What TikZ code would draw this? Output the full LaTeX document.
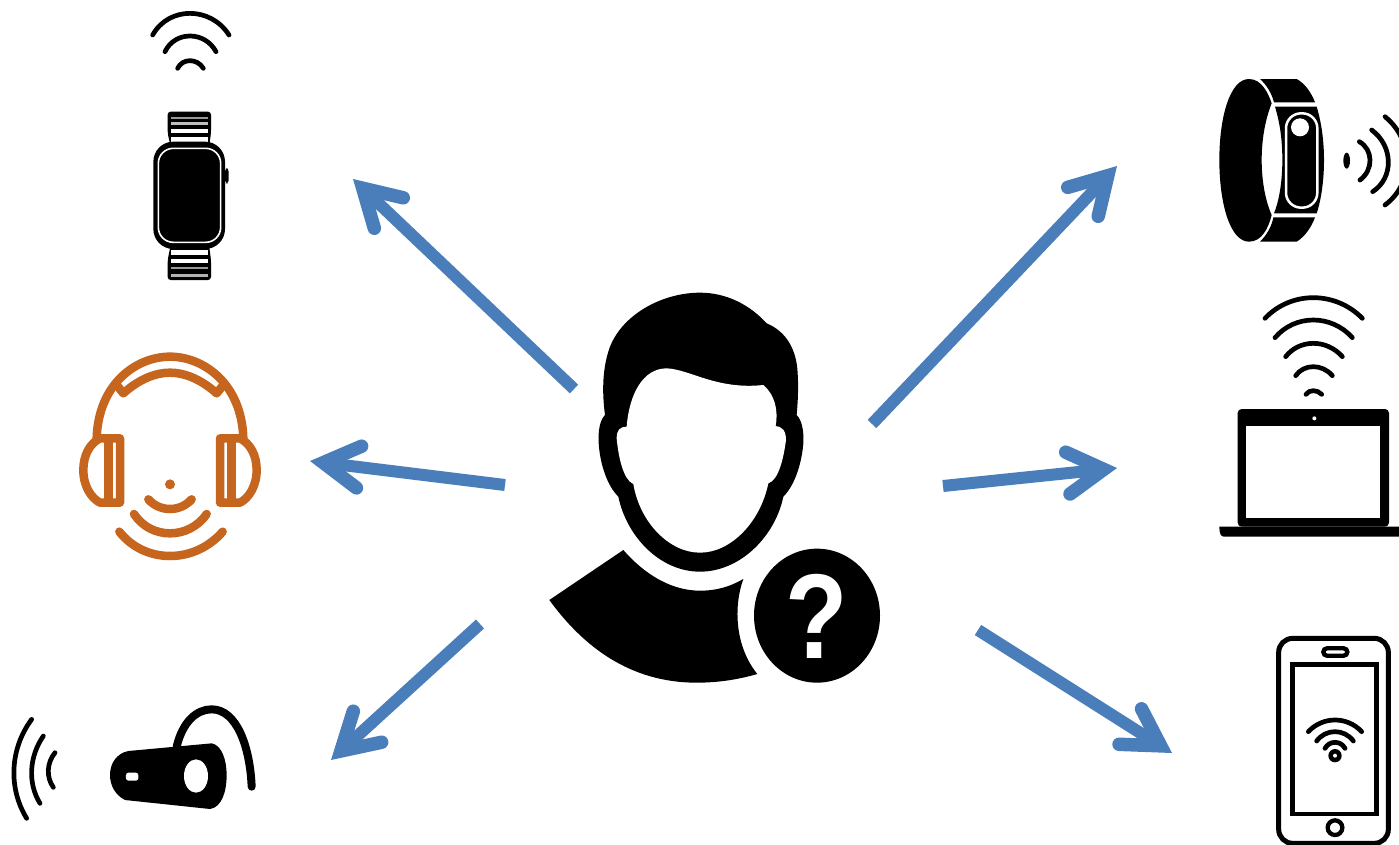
\documentclass[tikz,border=0pt]{standalone}
\usepackage{fontspec}
\setmainfont{Liberation Sans}
\usetikzlibrary{arrows.meta}
\definecolor{arrowblue}{HTML}{4A7EBB}
\definecolor{phoneorange}{HTML}{C5651E}
\tikzset{
  zoomed/.style 2 args={shift={(#1,#2)},x=.33333pt,y=-.33333pt},
  flow/.style={draw=arrowblue,line width=12pt,line cap=butt,line join=miter,
    -{Straight Barb[length=36pt,width=42pt,line width=13.5pt,line cap=round,line join=miter]}},
  ink/.style={fill=black,draw=none},
  hole/.style={fill=white,draw=none},
  radio/.style={draw=black,line width=4.7pt,line cap=round,fill=none}
}
% circular arc approximated from: end, apex, end
\newcommand{\wav}[7][]{%
  \pgfmathsetmacro\wava{veclen(#6-#2,#7-#3)/2}%
  \pgfmathsetmacro\wavmx{(#2+#6)/2}%
  \pgfmathsetmacro\wavmy{(#3+#7)/2}%
  \pgfmathsetmacro\wavh{veclen(#4-\wavmx,#5-\wavmy)}%
  \pgfmathsetmacro\wavt{\wavh/\wava}%
  \pgfmathsetmacro\wavL{2/3*(\wava+\wavh*\wavt)}%
  \pgfmathsetmacro\wavc{(1-\wavt*\wavt)/(1+\wavt*\wavt)}%
  \pgfmathsetmacro\wavs{2*\wavt/(1+\wavt*\wavt)}%
  \pgfmathsetmacro\wavux{(#6-#2)/(2*\wava)}%
  \pgfmathsetmacro\wavuy{(#7-#3)/(2*\wava)}%
  \pgfmathsetmacro\wavnx{(#4-\wavmx)/\wavh}%
  \pgfmathsetmacro\wavny{(#5-\wavmy)/\wavh}%
  \draw[radio,#1] (#2,#3) .. controls ({#2+\wavL*(\wavux*\wavc+\wavnx*\wavs)},{#3+\wavL*(\wavuy*\wavc+\wavny*\wavs)})
    and ({#6+\wavL*(-\wavux*\wavc+\wavnx*\wavs)},{#7+\wavL*(-\wavuy*\wavc+\wavny*\wavs)}) .. (#6,#7);}
\begin{document}
\begin{tikzpicture}[x=1pt,y=-1pt]
\useasboundingbox[fill=white] (0,0) rectangle (1399,844);

% ---- person
\begin{scope}[zoomed={530}{280}]
\fill[ink] (510,38) .. controls (590,38) and (660,75) .. (710,130)
  .. controls (770,155) and (800,210) .. (803,280) .. controls (806,330) and (803,370) .. (800,405)
  .. controls (815,420) and (822,450) .. (820,490) .. controls (815,550) and (795,615) .. (760,650)
  .. controls (735,770) and (630,875) .. (510,875) .. controls (390,875) and (290,770) .. (265,650)
  .. controls (230,615) and (210,550) .. (206,490) .. controls (204,450) and (210,420) .. (225,405)
  .. controls (215,330) and (218,260) .. (240,200) .. controls (280,100) and (400,38) .. (510,38) -- cycle;
\fill[hole] (290,440) .. controls (298,340) and (340,265) .. (410,265)
  .. controls (480,268) and (560,330) .. (700,315) .. controls (735,345) and (745,390) .. (737,438)
  .. controls (755,440) and (768,450) .. (768,480) .. controls (760,540) and (745,600) .. (715,610)
  .. controls (690,730) and (600,818) .. (510,818) .. controls (420,818) and (330,730) .. (310,612)
  .. controls (280,600) and (265,530) .. (260,475) .. controls (260,450) and (270,440) .. (290,440) -- cycle;
\fill[ink] (280,810) .. controls (350,890) and (430,932) .. (510,932)
  .. controls (560,932) and (600,920) .. (640,897)
  .. controls (610,980) and (615,1100) .. (682,1182)
  .. controls (620,1200) and (560,1208) .. (500,1208)
  .. controls (300,1208) and (160,1100) .. (58,960) -- cycle;
\fill[ink] (861,1007) ellipse [x radius=189,y radius=201];
\node (mark) at (860,1010) [text=white,inner sep=0pt,xscale=.88,yscale=1.04,font=\fontsize{116}{116}\selectfont\bfseries] {?};
\end{scope}

% ---- watch
\begin{scope}[zoomed={130}{0}]
\wav{68}{105}{180}{40}{297}{105}
\wav{105}{155}{180}{108}{258}{155}
\wav{143}{205}{180}{182}{220}{205}
\fill[ink,rounded corners=3pt] (113,335) -- (243,335) -- (243,400) -- (237,440) -- (122,440) -- (113,400) -- cycle;
\fill[ink,rounded corners=3pt] (122,735) -- (237,735) -- (243,780) -- (243,840) -- (113,840) -- (113,780) -- cycle;
\foreach \ya/\yb/\shade in {351/358/60,366/376/75,386/399/100,412/426/100,750/766/100,776/790/100,800/808/60,822/830/70}
  \fill[white!\shade!black] (124,\ya) rectangle (234,\yb);
\fill[black,rounded corners=20pt] (70,425) rectangle (285,747);
\draw[white,line width=1.6pt,rounded corners=15pt] (85,445) rectangle (272,727);
\fill[black,rounded corners=3pt] (285,505) rectangle (296,550);
\end{scope}

% ---- headphones
\begin{scope}[zoomed={60}{340}]
\tikzset{radio/.append style={draw=phoneorange,line width=8.5pt}}
\draw[radio,line cap=butt] (110,295) .. controls (115,130) and (230,50) .. (330,50) .. controls (430,50) and (545,130) .. (550,295);
\draw[radio,line join=round] (170,135) -- (190,160) .. controls (240,115) and (290,98) .. (330,98) .. controls (370,98) and (420,115) .. (470,160) -- (490,135);
\draw[radio,line join=round] (180,295) -- (120,295) .. controls (90,310) and (70,345) .. (70,390) .. controls (70,440) and (95,475) .. (120,488) -- (180,488) -- cycle;
\draw[radio,line cap=butt] (145,295) -- (145,488);
\draw[radio,line join=round] (480,295) -- (540,295) .. controls (570,310) and (590,345) .. (590,390) .. controls (590,440) and (565,475) .. (540,488) -- (480,488) -- cycle;
\draw[radio,line cap=butt] (515,295) -- (515,488);
\fill[phoneorange] (330,433) circle [radius=15];
\wav{265}{478}{330}{507}{395}{478}
\wav{222}{522}{330}{580}{440}{522}
\wav{178}{575}{330}{648}{488}{575}
\end{scope}

% ---- headset
\begin{scope}[zoomed={0}{690}]
\wav{95}{88}{42}{235}{80}{385}
\wav{130}{138}{95}{240}{120}{340}
\wav{165}{188}{145}{240}{160}{292}
\fill[ink] (385,183) -- (635,160) .. controls (665,165) and (680,210) .. (680,255)
  .. controls (680,305) and (665,352) .. (630,357) -- (375,330)
  .. controls (345,315) and (330,285) .. (330,255) .. controls (330,220) and (350,190) .. (385,183) -- cycle;
\fill[hole] (588,258) ellipse [x radius=36,y radius=50];
\fill[hole,rounded corners=2.5pt] (378,248) rectangle (415,272);
\draw[black,line width=8pt,line cap=round,fill=none] (530,170) .. controls (548,95) and (590,58) .. (635,58) .. controls (710,58) and (750,170) .. (755,290);
\end{scope}

% ---- wrist band
\begin{scope}[zoomed={1200}{70}]
\fill[ink] (147,27) .. controls (185,27) and (205,70) .. (215,100) .. controls (195,150) and (185,210) .. (185,270)
  .. controls (185,330) and (195,390) .. (215,435) .. controls (205,475) and (185,515) .. (147,515)
  .. controls (90,515) and (58,400) .. (58,270) .. controls (58,140) and (90,27) .. (147,27) -- cycle;
\fill[ink] (180,27) -- (290,27) .. controls (315,40) and (335,70) .. (345,97) -- (222,97) .. controls (215,70) and (200,45) .. (180,27) -- cycle;
\fill[ink] (220,442) -- (345,442) .. controls (335,470) and (315,500) .. (290,515) -- (180,515) .. controls (200,495) and (215,470) .. (220,442) -- cycle;
\fill[ink] (225,110) -- (350,110) .. controls (365,160) and (372,215) .. (372,270) .. controls (372,325) and (365,385) .. (350,430) -- (222,430) .. controls (240,385) and (247,325) .. (247,270) .. controls (247,210) and (240,160) .. (225,110) -- cycle;
\draw[white,line width=2.5pt,rounded corners=15pt] (258,130) rectangle (352,413);
\fill[hole] (300,172) circle [radius=27];
\fill[ink] (440,272) ellipse [x radius=10,y radius=24];
\wav{478}{215}{510}{270}{480}{330}[line width=5.5pt]
\wav{515}{180}{565}{275}{518}{365}[line width=5.5pt]
\wav{555}{140}{620}{275}{555}{405}[line width=5.5pt]
\end{scope}

% ---- laptop
\begin{scope}[zoomed={1200}{285}]
\wav{195}{100}{340}{38}{487}{100}
\wav{225}{158}{340}{105}{457}{158}
\wav{257}{215}{340}{175}{427}{215}
\wav{287}{272}{340}{245}{397}{272}
\wav{318}{328}{340}{317}{365}{328}[line width=5.5pt]
\fill[ink,rounded corners=4pt] (113,725) -- (113,372) -- (567,372) -- (567,725) -- cycle;
\fill[hole] (137,422) rectangle (540,700);
\fill[hole] (343,400) circle [radius=6];
\fill[ink] (58,725) -- (620,725) -- (620,755) -- (72,755) .. controls (62,755) and (58,745) .. (58,725) -- cycle;
\end{scope}

% ---- phone
\begin{scope}[zoomed={1260}{625}]
\draw[black,line width=5pt,rounded corners=14pt] (56,40) rectangle (385,655);
\draw[black,line width=4.3pt,rounded corners=3.6pt] (190,70) rectangle (262,92);
\draw[black,line width=4.5pt] (98,118) rectangle (350,567);
\draw[black,line width=4.3pt] (225,608) circle [radius=22];
\wav{145}{320}{225}{285}{305}{320}
\wav{170}{348}{225}{320}{280}{348}
\wav{195}{370}{225}{352}{255}{370}
\fill[ink] (225,392) circle [radius=20];
\fill[hole] (225,392) circle [radius=6];
\end{scope}

% ---- arrows
\coordinate (s1) at (574,389); \coordinate (t1) at (353,179);
\coordinate (s2) at (505,485); \coordinate (t2) at (310,461);
\coordinate (s3) at (480,624); \coordinate (t3) at (331,760);
\coordinate (s4) at (872,424); \coordinate (t4) at (1117,166);
\coordinate (s5) at (943,486); \coordinate (t5) at (1117,468);
\coordinate (s6) at (978,630); \coordinate (t6) at (1172,753);
\draw[flow] (s1) -- (t1);
\draw[flow] (s2) -- (t2);
\draw[flow] (s3) -- (t3);
\draw[flow] (s4) -- (t4);
\draw[flow] (s5) -- (t5);
\draw[flow] (s6) -- (t6);
\end{tikzpicture}
\end{document}
